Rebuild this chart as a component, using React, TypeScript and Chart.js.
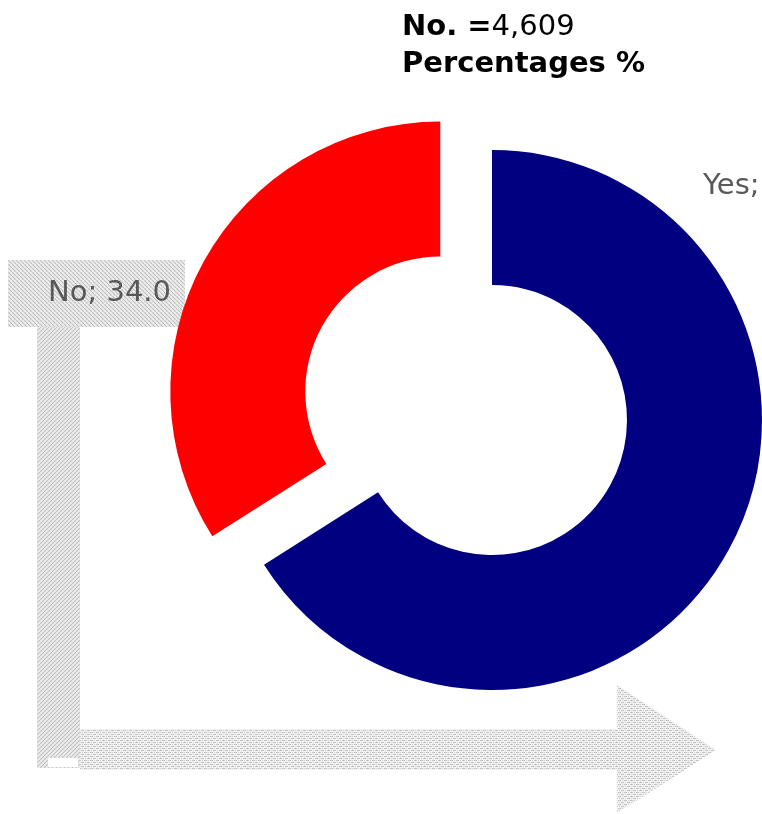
import React, { useEffect, useRef } from "react";
import { Chart, registerables } from "chart.js";

Chart.register(...registerables);

const categories = ["Yes", "No"];
const values = [66.0, 34.0];
const sampleSize = "4,609";
const titleLine2 = "Percentages %";

const sliceColors = ["#000080", "#FF0000"];
const explodeDist = [0, 59];
const FONT = "'DejaVu Sans', Verdana, sans-serif";

function makePattern(ctx: CanvasRenderingContext2D, kind: string) {
  const c = document.createElement("canvas");
  const p = c.getContext("2d") as CanvasRenderingContext2D;
  if (kind === "weave") {
    c.width = 6;
    c.height = 4;
    p.fillStyle = "#f1f1f1";
    p.fillRect(0, 0, 6, 4);
    p.fillStyle = "#c4c4c4";
    p.fillRect(0, 0, 3, 1);
    p.fillRect(3, 2, 3, 1);
    p.fillStyle = "#d6d6d6";
    p.fillRect(4, 0, 1, 1);
    p.fillRect(1, 2, 1, 1);
  } else {
    c.width = 4;
    c.height = 4;
    p.fillStyle = "#eeeeee";
    p.fillRect(0, 0, 4, 4);
    p.strokeStyle = "#c0c0c0";
    p.lineWidth = 1.1;
    p.beginPath();
    for (const k of [-4, 0, 4]) {
      if (kind === "back") {
        p.moveTo(k, 0);
        p.lineTo(k + 4, 4);
      } else {
        p.moveTo(k + 4, 0);
        p.lineTo(k, 4);
      }
    }
    p.stroke();
  }
  return ctx.createPattern(c, "repeat") as CanvasPattern;
}

const decorPlugin = {
  id: "decor",
  afterDatasetsUpdate(chart: any) {
    const meta = chart.getDatasetMeta(0);
    meta.data.forEach((arc: any, i: number) => {
      const d = explodeDist[i] || 0;
      if (!d) return;
      const mid = (arc.startAngle + arc.endAngle) / 2;
      arc.x += Math.cos(mid) * d;
      arc.y += Math.sin(mid) * d;
    });
  },
  beforeDatasetsDraw(chart: any) {
    const ctx: CanvasRenderingContext2D = chart.ctx;
    ctx.save();
    // vertical bar of arrow
    ctx.fillStyle = makePattern(ctx, "fwd");
    ctx.fillRect(37, 327, 43, 441);
    // horizontal bar + head
    ctx.fillStyle = makePattern(ctx, "weave");
    ctx.beginPath();
    ctx.moveTo(80, 729);
    ctx.lineTo(617, 729);
    ctx.lineTo(617, 685);
    ctx.lineTo(716, 750);
    ctx.lineTo(617, 813);
    ctx.lineTo(617, 770);
    ctx.lineTo(80, 770);
    ctx.closePath();
    ctx.fill();
    ctx.fillStyle = "#ffffff";
    ctx.fillRect(48, 758, 30, 9);
    // label box for "No"
    ctx.fillStyle = makePattern(ctx, "back");
    ctx.fillRect(8, 260, 177, 67);
    ctx.restore();
  },
  afterDatasetsDraw(chart: any) {
    const ctx: CanvasRenderingContext2D = chart.ctx;
    ctx.save();
    ctx.textBaseline = "alphabetic";
    ctx.textAlign = "left";
    // data labels
    ctx.fillStyle = "#595959";
    ctx.font = `29px ${FONT}`;
    const lbl = (i: number) => `${categories[i]}; ${values[i].toFixed(1)}`;
    ctx.fillText(lbl(0), 703, 194);
    ctx.fillText(lbl(1), 48, 301);
    // title
    ctx.fillStyle = "#000000";
    ctx.font = `bold 29px ${FONT}`;
    const head = "No. =";
    ctx.fillText(head, 402, 35);
    const w = ctx.measureText(head).width;
    ctx.font = `29px ${FONT}`;
    ctx.fillText(sampleSize, 402 + w, 35);
    ctx.font = `bold 29px ${FONT}`;
    ctx.fillText(titleLine2, 402, 72);
    ctx.restore();
  },
};

export default function App() {
  const ref = useRef<HTMLCanvasElement | null>(null);
  useEffect(() => {
    if (!ref.current) return;
    const chart = new Chart(ref.current, {
      type: "doughnut",
      data: {
        labels: categories,
        datasets: [
          {
            data: values,
            backgroundColor: sliceColors,
            borderWidth: 0,
          },
        ],
      },
      options: {
        responsive: false,
        animation: false,
        radius: 270,
        cutout: "50%",
        layout: { padding: { left: 230, right: 8, top: 100, bottom: 74 } },
        plugins: {
          legend: { display: false },
          tooltip: { enabled: false },
          title: { display: false },
        },
      } as any,
      plugins: [decorPlugin],
    });
    return () => chart.destroy();
  }, []);
  return (
    <div style={{ position: "absolute", left: 0, top: 0, width: 762, height: 814, background: "#fff" }}>
      <canvas ref={ref} width={762} height={814} />
    </div>
  );
}
